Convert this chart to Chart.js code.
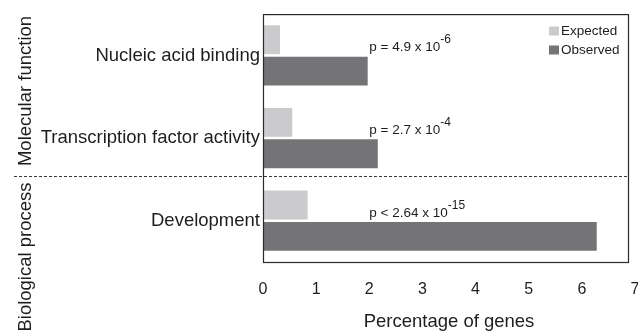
<!DOCTYPE html>
<html>
<head>
<meta charset="utf-8">
<script src="https://cdn.jsdelivr.net/npm/chart.js@4/dist/chart.umd.min.js"></script>
<style>
  html, body { margin: 0; padding: 0; background: #fff; }
  #wrap { width: 638px; height: 332px; position: relative; }
</style>
</head>
<body>
<div id="wrap"><canvas id="chart"></canvas></div>
<script>
// GO term enrichment: expected vs observed share of genes
const categories = ['Nucleic acid binding', 'Transcription factor activity', 'Development'];
const seriesNames = ['Expected', 'Observed'];
const expectedValues = [0.32, 0.55, 0.84];
const observedValues = [1.97, 2.16, 6.28];
const pValueText = ['p = 4.9 x 10', 'p = 2.7 x 10', 'p < 2.64 x 10'];
const pValueExponent = ['-6', '-4', '-15'];
const xTickValues = [0, 1, 2, 3, 4, 5, 6, 7];
const groupNames = ['Molecular function', 'Biological process'];
const xTitle = 'Percentage of genes';

const FONT = "'Liberation Sans', Arial, Helvetica, sans-serif";
const TEXT = '#1e1e1e';
const COLORS = ['#cbcbcd', '#747477'];

// frame, group separator, rotated group names, legend and p-values
const decorations = {
  id: 'decorations',
  afterDatasetsDraw(chart) {
    const { ctx, chartArea: a, scales: { x, y } } = chart;
    ctx.save();

    // plot frame (right edge sits just short of the last tick)
    const frameRight = a.right - 7;
    ctx.strokeStyle = '#2a2a2a';
    ctx.lineWidth = 1.2;
    ctx.strokeRect(a.left + 0.5, a.top + 0.5, frameRight - a.left, a.bottom - a.top);

    // dashed separator between the two GO groups
    const sepY = 176.5;
    ctx.setLineDash([3, 2]);
    ctx.strokeStyle = '#3a3a3a';
    ctx.lineWidth = 1;
    ctx.beginPath();
    ctx.moveTo(14, sepY);
    ctx.lineTo(frameRight, sepY);
    ctx.stroke();
    ctx.setLineDash([]);

    // rotated group names
    ctx.fillStyle = TEXT;
    ctx.font = `18.5px ${FONT}`;
    ctx.textAlign = 'center';
    ctx.textBaseline = 'alphabetic';
    const groupCenters = [91, 257];
    groupNames.forEach((name, i) => {
      ctx.save();
      ctx.translate(31, groupCenters[i]);
      ctx.rotate(-Math.PI / 2);
      ctx.fillText(name, 0, 0);
      ctx.restore();
    });

    // legend
    ctx.font = `13.5px ${FONT}`;
    ctx.textAlign = 'left';
    ctx.textBaseline = 'middle';
    chart.data.datasets.forEach((ds, i) => {
      const cy = 31 + i * 19;
      ctx.fillStyle = ds.backgroundColor;
      ctx.fillRect(549, cy - 4.5, 10, 9);
      ctx.fillStyle = TEXT;
      ctx.fillText(ds.label, 561, cy);
    });

    // p-values with superscript exponents
    const px = x.getPixelForValue(2);
    pValueText.forEach((t, i) => {
      const py = y.getPixelForValue(i) - 4;
      ctx.font = `13.5px ${FONT}`;
      ctx.textBaseline = 'alphabetic';
      ctx.fillStyle = TEXT;
      ctx.fillText(t, px, py);
      const w = ctx.measureText(t).width;
      ctx.font = `12px ${FONT}`;
      ctx.fillText(pValueExponent[i], px + w, py - 8);
    });

    ctx.restore();
  }
};

new Chart(document.getElementById('chart'), {
  type: 'bar',
  data: {
    labels: categories,
    datasets: [
      { label: seriesNames[0], data: expectedValues, backgroundColor: COLORS[0] },
      { label: seriesNames[1], data: observedValues, backgroundColor: COLORS[1] }
    ]
  },
  options: {
    indexAxis: 'y',
    responsive: true,
    maintainAspectRatio: false,
    animation: false,
    layout: { padding: { left: 0, right: 3, top: 13, bottom: 0 } },
    datasets: { bar: { categoryPercentage: 0.76, barPercentage: 0.92 } },
    plugins: { legend: { display: false }, tooltip: { enabled: false } },
    scales: {
      x: {
        type: 'linear',
        min: 0,
        max: 7,
        afterBuildTicks: s => { s.ticks = xTickValues.map(v => ({ value: v })); },
        afterFit: s => { s.height = 70; s.paddingLeft = 0; s.paddingRight = 0; },
        grid: { display: false, drawTicks: false },
        border: { display: false },
        ticks: { padding: 18, color: TEXT, font: { family: FONT, size: 16 } },
        title: {
          display: true,
          text: xTitle,
          color: TEXT,
          font: { family: FONT, size: 18.5, lineHeight: 1 },
          padding: { top: 0, bottom: 1 }
        }
      },
      y: {
        afterFit: s => { s.width = 263; },
        grid: { display: false, drawTicks: false },
        border: { display: false },
        ticks: { padding: 3, color: TEXT, font: { family: FONT, size: 18.5 } }
      }
    }
  },
  plugins: [decorations]
});
</script>
</body>
</html>
